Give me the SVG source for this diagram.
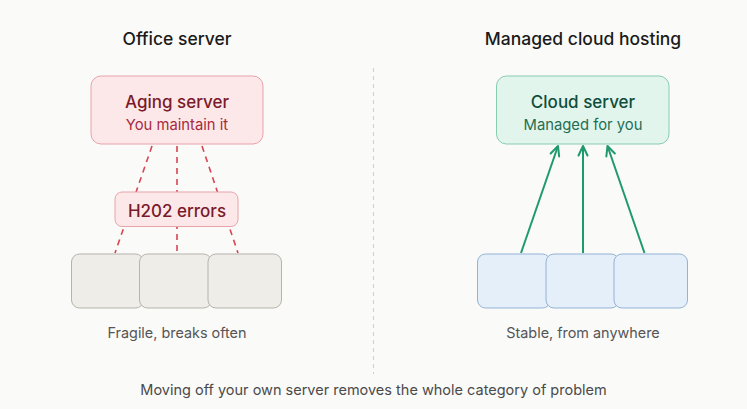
<svg xmlns="http://www.w3.org/2000/svg" width="747" height="409" viewBox="0 0 747 409">
  <defs>
    <style>
      text { font-family: Inter, "Liberation Sans", sans-serif; text-anchor: middle; }
      .title { font-size: 17.5px; font-weight: 500; fill: #1a1a1a; }
      .caption { font-size: 14.4px; fill: #555555; }
      .footer { font-size: 14.5px; fill: #4a4a4a; }
      .bad-box { fill: #fde8e9; stroke: #e8a3aa; stroke-width: 1; }
      .bad-main { font-size: 17px; font-weight: 450; fill: #7a1a2a; }
      .bad-sub { font-size: 14.8px; fill: #a82a3c; }
      .good-box { fill: #e2f5ed; stroke: #86cdae; stroke-width: 1; }
      .good-main { font-size: 17px; font-weight: 450; fill: #0f4d3a; }
      .good-sub { font-size: 14.8px; fill: #1f6e52; }
      .client-bad { fill: #efede8; stroke: #b6b3ac; stroke-width: 1; }
      .client-good { fill: #e5effa; stroke: #93b3d5; stroke-width: 1; }
      .dash { stroke: #d84452; stroke-width: 1.6; stroke-dasharray: 6 5; fill: none; }
      .arrow { stroke: #1f9a6d; stroke-width: 2; fill: none; marker-end: url(#ah); }
      .divider { stroke: #cfcfcf; stroke-width: 1; stroke-dasharray: 4 4; }
    </style>
    <marker id="ah" viewBox="0 0 12 12" refX="11" refY="6" markerWidth="12" markerHeight="12" markerUnits="userSpaceOnUse" orient="auto">
      <path d="M1.5,1.5 L11,6 L1.5,10.5" fill="none" stroke="#1f9a6d" stroke-width="2" stroke-linecap="round" stroke-linejoin="round"/>
    </marker>
  </defs>

  <rect x="0" y="0" width="747" height="409" fill="#fafaf9"/>

  <line class="divider" x1="373.5" y1="68" x2="373.5" y2="374"/>

  <text class="title" x="177" y="45">Office server</text>
  <text class="title" x="583" y="45">Managed cloud hosting</text>

  <g id="connectors">
    <line class="dash" x1="152" y1="146" x2="115" y2="253"/>
    <line class="dash" x1="177" y1="146" x2="177" y2="253"/>
    <line class="dash" x1="202" y1="146" x2="238" y2="253"/>
    <line class="arrow" x1="521" y1="253" x2="558" y2="146"/>
    <line class="arrow" x1="583" y1="253" x2="583" y2="146"/>
    <line class="arrow" x1="644.5" y1="253" x2="607.5" y2="146"/>
  </g>

  <g id="aging-server">
    <rect class="bad-box" x="91" y="76" width="172" height="68" rx="10"/>
    <text class="bad-main" x="177" y="108">Aging server</text>
    <text class="bad-sub" x="177" y="130">You maintain it</text>
  </g>

  <g id="h202-errors">
    <rect class="bad-box" x="115" y="192" width="123" height="34.5" rx="7"/>
    <text class="bad-main" x="177" y="217">H202 errors</text>
  </g>

  <g id="office-client-1"><rect class="client-bad" x="71.5" y="254" width="72" height="54" rx="8"/></g>
  <g id="office-client-2"><rect class="client-bad" x="139.5" y="254" width="72" height="54" rx="8"/></g>
  <g id="office-client-3"><rect class="client-bad" x="208" y="254" width="73.5" height="54" rx="8"/></g>

  <text class="caption" x="177" y="338">Fragile, breaks often</text>

  <g id="cloud-server">
    <rect class="good-box" x="496.5" y="76" width="172.5" height="68" rx="10"/>
    <text class="good-main" x="583" y="108">Cloud server</text>
    <text class="good-sub" x="583" y="130">Managed for you</text>
  </g>

  <g id="cloud-client-1"><rect class="client-good" x="477.5" y="254" width="73" height="54" rx="8"/></g>
  <g id="cloud-client-2"><rect class="client-good" x="546" y="254" width="73" height="54" rx="8"/></g>
  <g id="cloud-client-3"><rect class="client-good" x="614" y="254" width="73.5" height="54" rx="8"/></g>

  <text class="caption" x="583" y="338">Stable, from anywhere</text>

  <text class="footer" x="373.5" y="395">Moving off your own server removes the whole category of problem</text>
</svg>
